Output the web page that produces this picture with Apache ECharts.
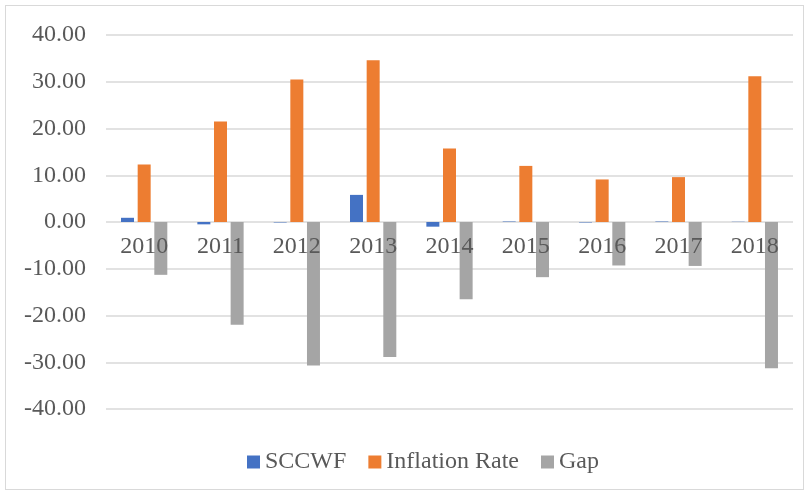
<!DOCTYPE html>
<html>
<head>
<meta charset="utf-8">
<script src="https://cdn.jsdelivr.net/npm/echarts@6/dist/echarts.min.js"></script>
<style>
  html, body { margin: 0; padding: 0; background: #fff; }
  #chart { width: 809px; height: 495px; }
  .frame {
    position: absolute; left: 5px; top: 5px; width: 797px; height: 483px;
    border: 1px solid #d9d9d9; pointer-events: none;
  }
</style>
</head>
<body>
<div id="chart"></div>
<div class="frame"></div>
<script>
const years = ['2010', '2011', '2012', '2013', '2014', '2015', '2016', '2017', '2018']
const sccwf = [0.9, -0.5, -0.1, 5.8, -1.0, 0.1, -0.1, 0.1, 0.05]
const inflation = [12.3, 21.5, 30.5, 34.6, 15.7, 12.0, 9.1, 9.6, 31.2]
const gap = [-11.3, -22.0, -30.7, -28.9, -16.5, -11.8, -9.3, -9.4, -31.3]

const font = 'Liberation Serif'
const textColor = '#595959'

const chart = echarts.init(document.getElementById('chart'))

const barStyle = color => ({
  type: 'bar',
  barWidth: 13,
  barGap: '28%',
  itemStyle: { color }
})

chart.setOption({
  animation: false,
  textStyle: { fontFamily: font },
  legend: {
    top: 445,
    left: 242,
    itemWidth: 13,
    itemHeight: 13,
    itemGap: 22,
    icon: 'rect',
    textStyle: { color: textColor, fontSize: 24, fontFamily: font },
    data: ['SCCWF', 'Inflation Rate', 'Gap']
  },
  grid: { left: 106, right: 16, top: 35, bottom: 86 },
  xAxis: {
    type: 'category',
    data: years,
    offset: -187,
    axisLine: { show: false, onZero: false },
    axisTick: { show: false },
    axisLabel: { color: textColor, fontSize: 24, fontFamily: font, margin: 13 },
    z: 10
  },
  yAxis: {
    type: 'value',
    min: -40,
    max: 40,
    interval: 10,
    axisLine: { show: false },
    axisTick: { show: false },
    axisLabel: {
      color: textColor, fontSize: 24, fontFamily: font, margin: 20,
      formatter: v => v.toFixed(2)
    },
    splitLine: { lineStyle: { color: '#d9d9d9', width: 1.5 } }
  },
  series: [
    { name: 'SCCWF', data: sccwf, ...barStyle('#4472C4') },
    { name: 'Inflation Rate', data: inflation, ...barStyle('#ED7D31') },
    { name: 'Gap', data: gap, ...barStyle('#A5A5A5') }
  ]
})
</script>
</body>
</html>
